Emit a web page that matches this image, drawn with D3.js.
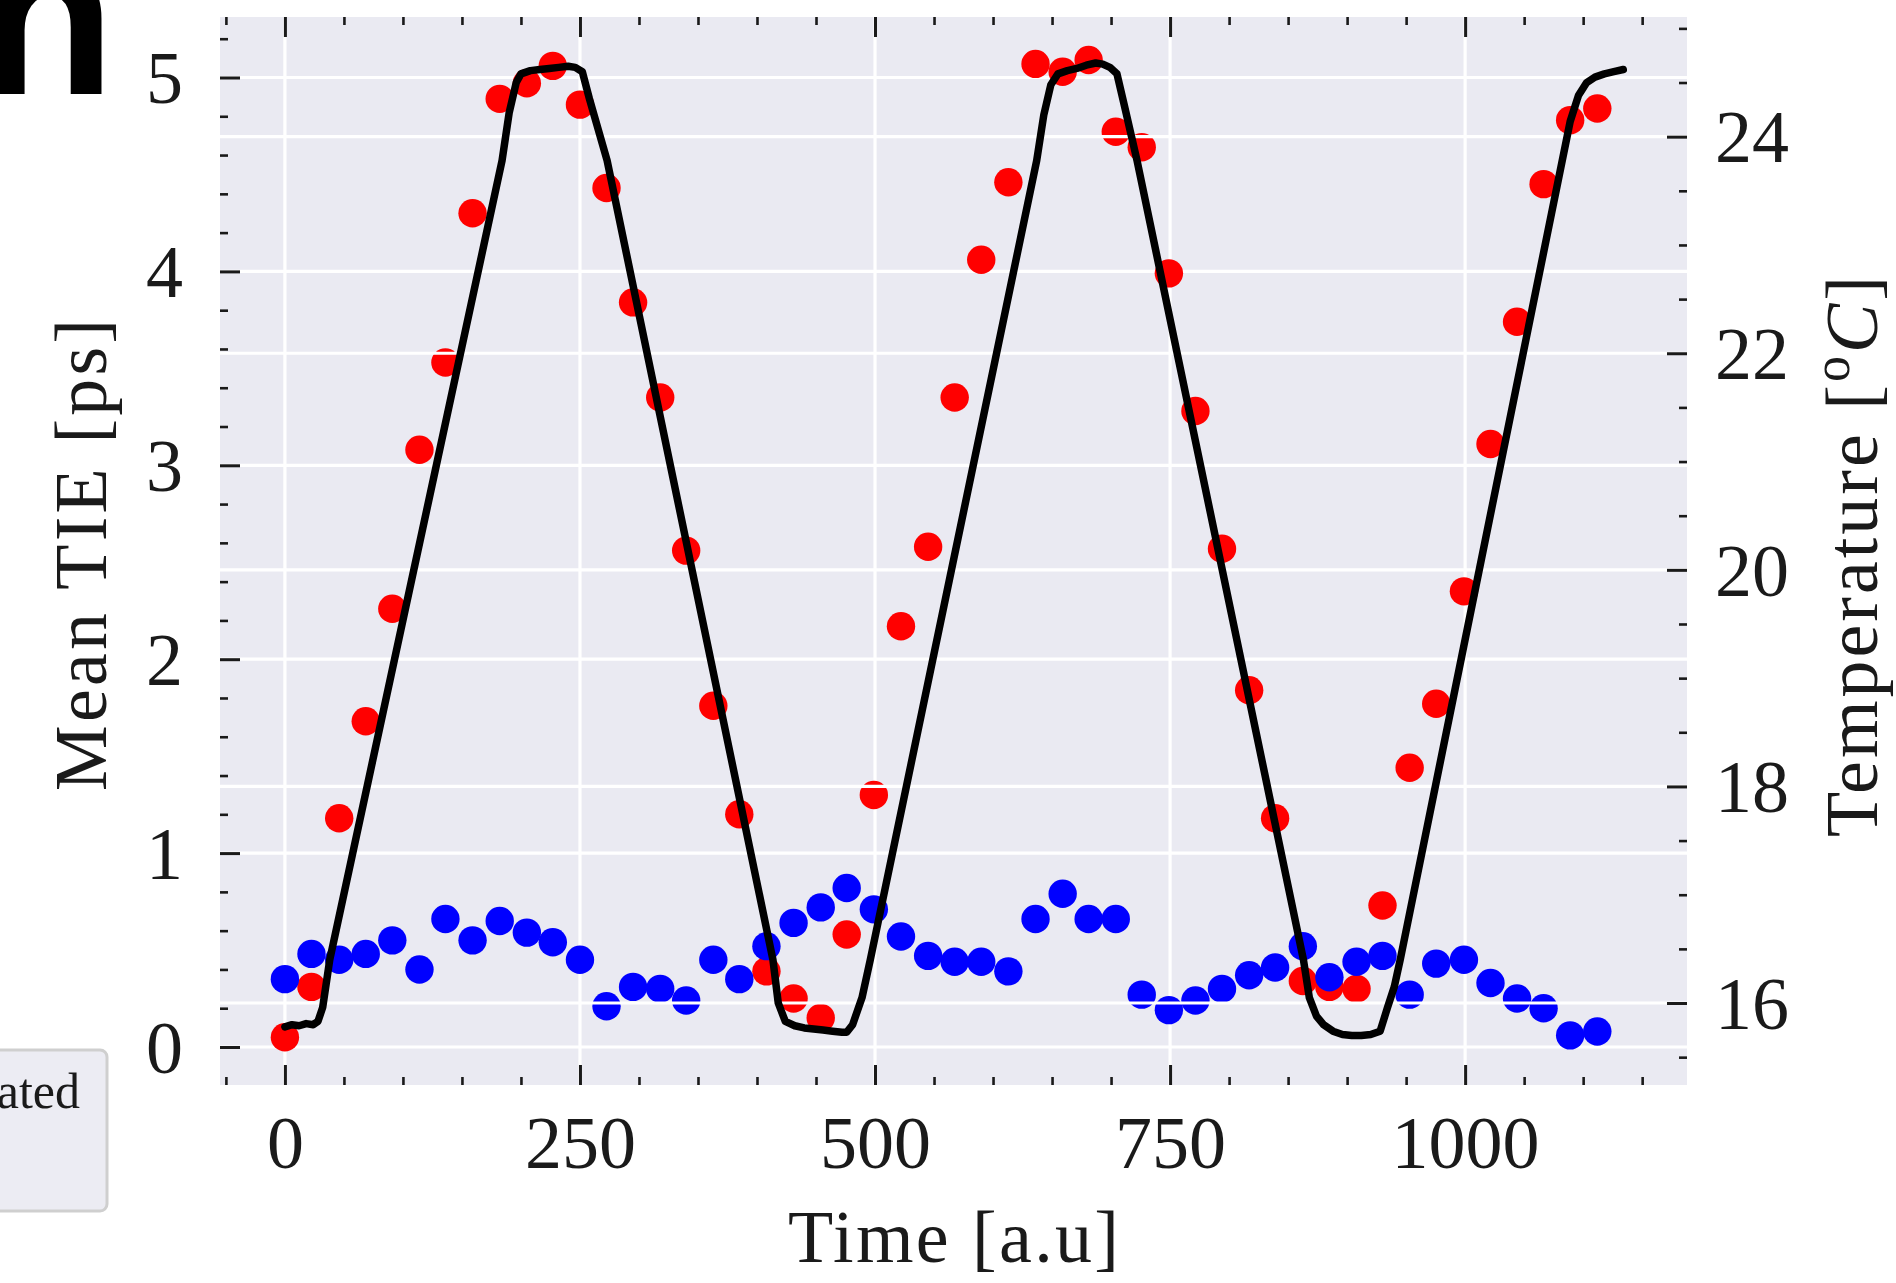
<!DOCTYPE html>
<html>
<head>
<meta charset="utf-8">
<script src="https://cdn.jsdelivr.net/npm/d3@7"></script>
<style>
  html, body { margin: 0; padding: 0; background: #ffffff; overflow: hidden; }
  svg { display: block; }
</style>
</head>
<body>
<svg id="chart" width="1896" height="1283"></svg>
<script>
// Sample times of the TIE measurements [a.u]
const sampleTime = [0, 22.5, 46, 68.5, 91, 114, 136, 159, 182, 205, 227, 250, 272.5, 295, 318, 340, 363, 385, 408, 431,
  454, 476, 499, 522, 545, 567.5, 590, 613, 636, 659, 681, 704, 726, 749, 771.5, 794, 817, 839, 862.5, 885,
  908, 930, 953, 975.5, 999, 1021.5, 1044, 1066.5, 1089, 1112];

// Mean TIE [ps] without temperature compensation (red)
const tieUncompensated = [0.05, 0.31, 1.18, 1.68, 2.26, 3.08, 3.53, 4.30, 4.89, 4.97, 5.06, 4.86, 4.43, 3.84, 3.35, 2.56, 1.76, 1.20, 0.39, 0.25,
  0.15, 0.58, 1.30, 2.17, 2.58, 3.35, 4.06, 4.46, 5.07, 5.03, 5.09, 4.72, 4.64, 3.99, 3.28, 2.57, 1.84, 1.18, 0.34, 0.31,
  0.30, 0.73, 1.44, 1.77, 2.35, 3.11, 3.74, 4.45, 4.78, 4.84];

// Mean TIE [ps] with temperature compensation (blue)
const tieCompensated = [0.35, 0.48, 0.45, 0.48, 0.55, 0.40, 0.66, 0.55, 0.65, 0.59, 0.54, 0.45, 0.21, 0.31, 0.30, 0.24, 0.45, 0.35, 0.52, 0.64,
  0.72, 0.82, 0.71, 0.57, 0.47, 0.44, 0.44, 0.39, 0.66, 0.79, 0.66, 0.66, 0.27, 0.19, 0.24, 0.30, 0.37, 0.41, 0.52, 0.36,
  0.44, 0.47, 0.27, 0.43, 0.45, 0.33, 0.25, 0.20, 0.06, 0.08];

// Temperature trace [°C]
const tempTime = [0, 6, 12, 18, 24, 28, 32, 38, 184, 190, 196, 200, 208, 216, 224, 232, 240, 246, 252, 258,
  273, 413.5, 418, 424, 432, 440, 448, 456, 464, 472, 476, 481, 489, 496, 637, 643, 649, 655, 663, 671,
  679, 687, 693, 699, 705, 711, 722, 863, 868, 874, 880, 888, 896, 904, 912, 920, 928, 934, 940, 945,
  1089, 1096, 1103, 1110, 1118, 1126, 1134];
const tempValue = [15.78, 15.80, 15.79, 15.81, 15.80, 15.83, 15.96, 16.40, 23.78, 24.22, 24.50, 24.58, 24.61, 24.62, 24.63, 24.64, 24.65, 24.64, 24.60, 24.35,
  23.78, 16.40, 16.00, 15.83, 15.79, 15.77, 15.76, 15.75, 15.74, 15.73, 15.73, 15.80, 16.05, 16.40, 23.78, 24.20, 24.48, 24.58, 24.61, 24.63,
  24.66, 24.68, 24.67, 24.64, 24.58, 24.30, 23.78, 16.40, 16.05, 15.88, 15.80, 15.74, 15.71, 15.70, 15.70, 15.71, 15.74, 15.95, 16.15, 16.40,
  24.14, 24.38, 24.50, 24.55, 24.58, 24.60, 24.62];

// Tick values
const timeTicks = [0, 250, 500, 750, 1000];
const timeMinorTicks = [-50, 50, 100, 150, 200, 300, 350, 400, 450, 550, 600, 650, 700, 800, 850, 900, 950, 1050, 1100, 1150];
const tieTicks = [0, 1, 2, 3, 4, 5];
const tieMinorTicks = [0.2, 0.4, 0.6, 0.8, 1.2, 1.4, 1.6, 1.8, 2.2, 2.4, 2.6, 2.8, 3.2, 3.4, 3.6, 3.8, 4.2, 4.4, 4.6, 4.8, 5.2];
const tempTicks = [16, 18, 20, 22, 24];
const tempMinorTicks = [15.5, 16.5, 17, 17.5, 18.5, 19, 19.5, 20.5, 21, 21.5, 22.5, 23, 23.5, 24.5, 25];

const svg = d3.select("#chart");
const serif = "'Liberation Serif', 'DejaVu Serif', serif";
const ink = "#1a1a1a";

const plot = { left: 220, right: 1687, top: 17, bottom: 1085 };

const x = d3.scaleLinear().domain([-55, 1188]).range([plot.left, plot.right]);
const yTie = d3.scaleLinear().domain([-0.196, 5.312]).range([plot.bottom, plot.top]);
const yTemp = d3.scaleLinear().domain([15.243, 25.105]).range([plot.bottom, plot.top]);

// Panel background
svg.append("rect")
  .attr("x", plot.left).attr("y", plot.top)
  .attr("width", plot.right - plot.left).attr("height", plot.bottom - plot.top)
  .attr("fill", "#eaeaf2");

svg.append("clipPath").attr("id", "plot-clip")
  .append("rect")
  .attr("x", plot.left).attr("y", plot.top)
  .attr("width", plot.right - plot.left).attr("height", plot.bottom - plot.top);

const body = svg.append("g").attr("clip-path", "url(#plot-clip)");

// Grid of the TIE axes
body.append("g").selectAll("line").data(timeTicks).join("line")
  .attr("x1", d => x(d)).attr("x2", d => x(d))
  .attr("y1", plot.top).attr("y2", plot.bottom)
  .attr("stroke", "#ffffff").attr("stroke-width", 3.2);
body.append("g").selectAll("line").data(tieTicks).join("line")
  .attr("x1", plot.left).attr("x2", plot.right)
  .attr("y1", d => yTie(d)).attr("y2", d => yTie(d))
  .attr("stroke", "#ffffff").attr("stroke-width", 3.2);

// TIE scatter points
const markerR = 14.2;
body.append("g").selectAll("circle").data(sampleTime).join("circle")
  .attr("cx", d => x(d))
  .attr("cy", (d, i) => yTie(tieUncompensated[i]))
  .attr("r", markerR)
  .attr("fill", "#ff0000");
body.append("g").selectAll("circle").data(sampleTime).join("circle")
  .attr("cx", d => x(d))
  .attr("cy", (d, i) => yTie(tieCompensated[i]))
  .attr("r", markerR)
  .attr("fill", "#0000ff");

// Grid of the temperature axes, drawn over the TIE layer
body.append("g").selectAll("line").data(tempTicks).join("line")
  .attr("x1", plot.left).attr("x2", plot.right)
  .attr("y1", d => yTemp(d)).attr("y2", d => yTemp(d))
  .attr("stroke", "#ffffff").attr("stroke-width", 3.2);

// Temperature trace
const tempLine = d3.line()
  .x((d, i) => x(tempTime[i]))
  .y(d => yTemp(d));
body.append("path")
  .datum(tempValue)
  .attr("d", tempLine)
  .attr("fill", "none")
  .attr("stroke", "#000000")
  .attr("stroke-width", 7.5)
  .attr("stroke-linejoin", "round")
  .attr("stroke-linecap", "round");

// Axes: ticks point inward, no spines
function styleAxis(g, width) {
  g.select(".domain").remove();
  g.selectAll(".tick line").attr("stroke", ink).attr("stroke-width", width);
  g.attr("font-family", serif).attr("font-size", 74);
  g.selectAll(".tick text").attr("fill", ink);
}

const fmt = d3.format("d");

// bottom
svg.append("g").attr("transform", `translate(0,${plot.bottom})`)
  .call(d3.axisBottom(x).tickValues(timeTicks).tickSize(-20).tickPadding(30).tickFormat(fmt))
  .call(g => styleAxis(g, 3));
svg.append("g").attr("transform", `translate(0,${plot.bottom})`)
  .call(d3.axisBottom(x).tickValues(timeMinorTicks).tickSize(-8).tickFormat(""))
  .call(g => styleAxis(g, 2.6));
// top
svg.append("g").attr("transform", `translate(0,${plot.top})`)
  .call(d3.axisTop(x).tickValues(timeTicks).tickSize(-20).tickFormat(""))
  .call(g => styleAxis(g, 3));
svg.append("g").attr("transform", `translate(0,${plot.top})`)
  .call(d3.axisTop(x).tickValues(timeMinorTicks).tickSize(-8).tickFormat(""))
  .call(g => styleAxis(g, 2.6));
// left (TIE)
svg.append("g").attr("transform", `translate(${plot.left},0)`)
  .call(d3.axisLeft(yTie).tickValues(tieTicks).tickSize(-20).tickPadding(37).tickFormat(fmt))
  .call(g => styleAxis(g, 3))
  .call(g => g.selectAll(".tick text").attr("dy", "0.34em"));
svg.append("g").attr("transform", `translate(${plot.left},0)`)
  .call(d3.axisLeft(yTie).tickValues(tieMinorTicks).tickSize(-8).tickFormat(""))
  .call(g => styleAxis(g, 2.6));
// right (temperature)
svg.append("g").attr("transform", `translate(${plot.right},0)`)
  .call(d3.axisRight(yTemp).tickValues(tempTicks).tickSize(-20).tickPadding(28).tickFormat(fmt))
  .call(g => styleAxis(g, 3))
  .call(g => g.selectAll(".tick text").attr("dy", "0.34em"));
svg.append("g").attr("transform", `translate(${plot.right},0)`)
  .call(d3.axisRight(yTemp).tickValues(tempMinorTicks).tickSize(-8).tickFormat(""))
  .call(g => styleAxis(g, 2.6));

// Axis titles
svg.append("text")
  .attr("x", (plot.left + plot.right) / 2).attr("y", 1262)
  .attr("text-anchor", "middle")
  .attr("font-family", serif).attr("font-size", 74).attr("fill", ink)
  .attr("textLength", 331).attr("lengthAdjust", "spacing")
  .text("Time [a.u]");

svg.append("text")
  .attr("transform", "translate(106,555) rotate(-90)")
  .attr("text-anchor", "middle")
  .attr("font-family", serif).attr("font-size", 74).attr("fill", ink)
  .attr("textLength", 472).attr("lengthAdjust", "spacing")
  .text("Mean TIE [ps]");

const tempTitle = svg.append("text")
  .attr("transform", "translate(1877,555) rotate(-90)")
  .attr("text-anchor", "middle")
  .attr("font-family", serif).attr("font-size", 74).attr("fill", ink)
  .attr("letter-spacing", 3);
tempTitle.append("tspan").text("Temperature [");
tempTitle.append("tspan").attr("dy", -28).attr("font-size", 52).text("o");
tempTitle.append("tspan").attr("dy", 28).attr("font-style", "italic").text("C");
tempTitle.append("tspan").text("]");

// Legend frame at the lower left
svg.append("rect")
  .attr("x", -12).attr("y", 1050)
  .attr("width", 119).attr("height", 161)
  .attr("rx", 7)
  .attr("fill", "#ececf3")
  .attr("stroke", "#cfcfcf").attr("stroke-width", 3);
svg.append("text")
  .attr("x", 80).attr("y", 1108)
  .attr("text-anchor", "end")
  .attr("font-family", serif).attr("font-size", 50).attr("fill", ink)
  .text("Uncompensated");

// Heading letter at the top left
svg.append("text")
  .attr("x", -22).attr("y", 94)
  .attr("font-family", "'Liberation Sans', Arial, sans-serif")
  .attr("font-weight", "bold")
  .attr("font-size", 225)
  .attr("fill", "#000000")
  .text("n");
</script>
</body>
</html>
